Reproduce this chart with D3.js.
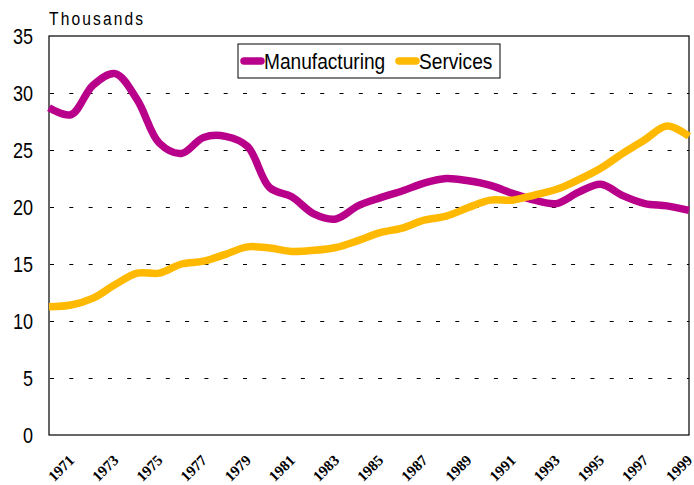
<!DOCTYPE html>
<html>
<head>
<meta charset="utf-8">
<script src="https://cdn.jsdelivr.net/npm/d3@7"></script>
<style>
  body { margin: 0; background: #fff; }
  svg { display: block; }
</style>
</head>
<body>
<svg id="chart" width="694" height="485"></svg>
<script>
// annual data, 1970 - 1999 (thousands)
const years = d3.range(1970, 2000);
const manufacturing = [28.7, 28.1, 30.7, 31.7, 29.4, 25.6, 24.7, 26.1, 26.2, 25.3,
  21.7, 20.9, 19.4, 18.95, 20.1, 20.8, 21.4, 22.1, 22.5, 22.3,
  21.9, 21.2, 20.6, 20.3, 21.3, 22.0, 21.0, 20.3, 20.1, 19.7];
const services = [11.25, 11.4, 12.0, 13.2, 14.2, 14.2, 15.0, 15.25, 15.85, 16.5,
  16.4, 16.1, 16.2, 16.45, 17.05, 17.75, 18.15, 18.85, 19.2, 19.95,
  20.6, 20.6, 21.05, 21.55, 22.4, 23.4, 24.7, 25.9, 27.1, 26.2];
const yTicks = [0, 5, 10, 15, 20, 25, 30, 35];
const xTicks = d3.range(1971, 2000, 2);

const series = [
  { name: "Manufacturing", values: manufacturing, color: "#b8008a" },
  { name: "Services", values: services, color: "#ffb900" }
];

const svg = d3.select("#chart");
const m = { left: 49, right: 5, top: 36, bottom: 50 };
const W = 694, H = 485;
const sans = "'Liberation Sans', Arial, sans-serif";

const x = d3.scaleLinear().domain([1970, 1999]).range([m.left, W - m.right]);
const y = d3.scaleLinear().domain([0, 35]).range([H - m.bottom, m.top]);

// gridlines (dashed), snapped to the pixel grid
svg.append("g")
  .selectAll("line")
  .data(yTicks.filter(d => d > 0 && d < 35))
  .enter().append("line")
  .attr("x1", m.left + 1).attr("x2", W - m.right)
  .attr("y1", d => Math.round(y(d)) + 0.5).attr("y2", d => Math.round(y(d)) + 0.5)
  .attr("stroke", "#000")
  .attr("stroke-width", 1)
  .attr("stroke-dasharray", "4,15.3");

// plot frame
svg.append("rect")
  .attr("x", m.left).attr("y", m.top)
  .attr("width", W - m.right - m.left)
  .attr("height", H - m.bottom - m.top)
  .attr("fill", "none")
  .attr("stroke", "#000")
  .attr("stroke-width", 1.2);

// y axis (narrow look: squeeze the glyphs horizontally)
const yAxis = svg.append("g")
  .attr("transform", `translate(${m.left},0)`)
  .call(d3.axisLeft(y).tickValues(yTicks).tickSize(0));
yAxis.select(".domain").remove();
yAxis.selectAll("text")
  .attr("x", 0)
  .attr("dy", "0.35em")
  .attr("text-anchor", "end")
  .attr("transform", "translate(-16,0) scale(0.82,1)")
  .attr("font-family", sans)
  .attr("font-size", 22)
  .attr("fill", "#000");

// x axis, labels rotated around their centre
const xAxis = svg.append("g")
  .attr("transform", `translate(0,${H - m.bottom})`)
  .call(d3.axisBottom(x).tickValues(xTicks).tickSize(0).tickFormat(d3.format("d")));
xAxis.select(".domain").remove();
xAxis.selectAll("text")
  .attr("font-family", "'Liberation Serif', 'Times New Roman', serif")
  .attr("font-weight", "bold")
  .attr("font-size", 15)
  .attr("fill", "#000")
  .attr("text-anchor", "middle")
  .attr("y", 0)
  .attr("dy", "0.35em")
  .attr("transform", "translate(-10.5,33) rotate(-45)");

// units label
svg.append("text")
  .attr("transform", "translate(49,25) scale(0.82,1)")
  .attr("font-family", sans)
  .attr("font-size", 19)
  .attr("letter-spacing", 2.6)
  .text("Thousands");

// lines
const line = d3.line()
  .x((d, i) => x(years[i]))
  .y(d => y(d))
  .curve(d3.curveCatmullRom.alpha(0.5));

svg.append("g")
  .selectAll("path")
  .data(series)
  .enter().append("path")
  .attr("d", d => line(d.values))
  .attr("fill", "none")
  .attr("stroke", d => d.color)
  .attr("stroke-width", 7.5)
  .attr("stroke-linecap", "butt")
  .attr("stroke-linejoin", "round");

// legend
const lg = svg.append("g");
lg.append("rect")
  .attr("x", 238).attr("y", 44)
  .attr("width", 262).attr("height", 34)
  .attr("fill", "#fff")
  .attr("stroke", "#000")
  .attr("stroke-width", 1);

const legendPos = [241, 396];
series.forEach((s, i) => {
  lg.append("line")
    .attr("x1", legendPos[i] + 3).attr("x2", legendPos[i] + 20)
    .attr("y1", 61).attr("y2", 61)
    .attr("stroke", s.color)
    .attr("stroke-width", 7.5)
    .attr("stroke-linecap", "round");
  lg.append("text")
    .attr("transform", `translate(${legendPos[i] + 23},69) scale(0.87,1)`)
    .attr("font-family", sans)
    .attr("font-size", 22)
    .text(s.name);
});
</script>
</body>
</html>
